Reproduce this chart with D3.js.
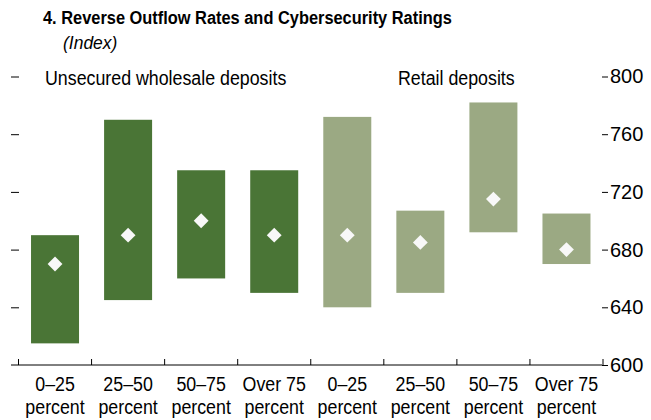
<!DOCTYPE html>
<html>
<head>
<meta charset="utf-8">
<script src="https://cdn.jsdelivr.net/npm/d3@7"></script>
<style>
  body { margin: 0; background: #fff; }
  svg { display: block; font-family: "Liberation Sans Narrow", "Liberation Sans", Arial, sans-serif; }
</style>
</head>
<body>
<svg width="651" height="420"></svg>
<script>
// chart values
var ranges = ["0–25", "25–50", "50–75", "Over 75"];
var groups = ["Unsecured wholesale deposits", "Retail deposits"];
var lowVals  = [615, 645, 660, 650, 640, 650, 692, 670]; // bottom of each bar
var highVals = [690, 770, 735, 735, 772, 707, 782, 705]; // top of each bar
var midVals  = [670, 690, 700, 690, 690, 685, 715, 680]; // diamond
var yTicks = [600, 640, 680, 720, 760, 800];

var svg = d3.select("svg");
var narrow = 0.89; // squeeze regular text to look like the condensed face

var data = [];
groups.forEach(function(g, gi) {
	ranges.forEach(function(r, ri) {
		var i = gi * ranges.length + ri;
		data.push({ key: i, group: gi, label: r, low: lowVals[i], high: highVals[i], mid: midVals[i] });
	});
});

var x = d3.scaleBand()
	.domain(data.map(function(d) { return d.key; }))
	.range([18.5, 603])
	.paddingInner(0.343)
	.paddingOuter(0.1715);

var y = d3.scaleLinear().domain([600, 800]).range([365, 76.5]);

var color = ["#4a7536", "#9ba983"];

function label(px, py, txt, size, sx) { // squeezed text anchored at its left end
	return svg.append("text")
		.attr("transform", "translate(" + px + "," + py + ") scale(" + sx + ",1)")
		.style("font-size", size + "px")
		.text(txt);
}

// title
label(43, 24, "4. Reverse Outflow Rates and Cybersecurity Ratings", 19, 0.863).style("font-weight", "bold");
label(63, 49, "(Index)", 19, 0.92).style("font-style", "italic");

// group labels
label(45, 85, groups[0], 20, narrow);
label(398, 85, groups[1], 20, narrow);

// bars
svg.append("g").selectAll("rect")
	.data(data)
	.enter().append("rect")
	.attr("x", function(d) { return x(d.key); })
	.attr("width", x.bandwidth())
	.attr("y", function(d) { return y(d.high); })
	.attr("height", function(d) { return y(d.low) - y(d.high); })
	.attr("fill", function(d) { return color[d.group]; });

// diamonds
var diamond = d3.symbol().type(d3.symbolSquare).size(110);
svg.append("g").selectAll("path")
	.data(data)
	.enter().append("path")
	.attr("d", diamond)
	.attr("transform", function(d) {
		return "translate(" + (x(d.key) + x.bandwidth() / 2) + "," + y(d.mid) + ") rotate(45)";
	})
	.attr("fill", "#f8f8f8");

// right axis
var right = svg.append("g")
	.attr("transform", "translate(602,0)")
	.call(d3.axisRight(y).tickValues(yTicks).tickSize(6).tickPadding(2));
right.select(".domain").remove();
right.selectAll("text").style("font-size", "20px").attr("font-family", null).attr("fill", "#000");
right.selectAll("line").attr("stroke", "#000");

// left ticks, no labels
var left = svg.append("g")
	.attr("transform", "translate(19,0)")
	.call(d3.axisLeft(y).tickValues(yTicks.slice(1)).tickSize(8).tickFormat(""));
left.select(".domain").remove();
left.selectAll("line").attr("stroke", "#000");

// bottom baseline with band separators
svg.append("line")
	.attr("x1", 11).attr("x2", 602)
	.attr("y1", y(600)).attr("y2", y(600))
	.attr("stroke", "#000");
var step = x.step();
var bounds = d3.range(data.length + 1).map(function(i) { return 18.5 + i * step; });
svg.append("g").selectAll("line")
	.data(bounds)
	.enter().append("line")
	.attr("x1", function(d) { return d; }).attr("x2", function(d) { return d; })
	.attr("y1", y(600) - 6).attr("y2", y(600))
	.attr("stroke", "#000");

// category labels
var lab = svg.append("g").selectAll("text")
	.data(data)
	.enter().append("text")
	.attr("text-anchor", "middle")
	.style("font-size", "20px")
	.attr("transform", function(d) {
		return "translate(" + (x(d.key) + x.bandwidth() / 2) + ",0) scale(" + narrow + ",1)";
	});
lab.append("tspan").attr("x", 0).attr("y", 391).text(function(d) { return d.label; });
lab.append("tspan").attr("x", 0).attr("y", 414).text("percent");
</script>
</body>
</html>
